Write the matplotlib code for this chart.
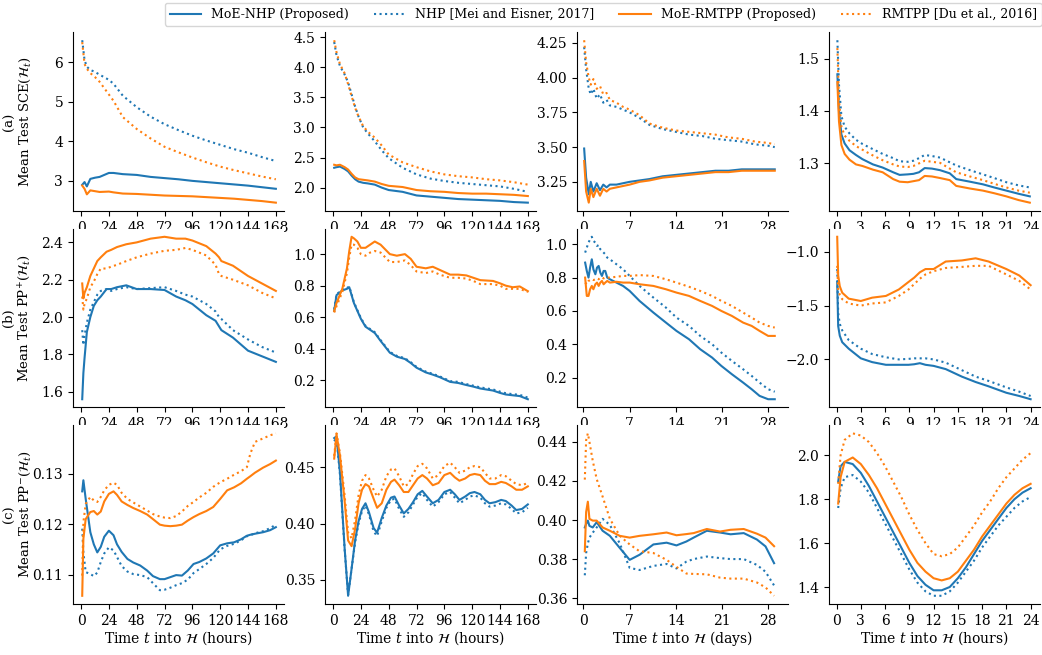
import matplotlib
matplotlib.use("Agg")
import matplotlib.pyplot as plt
from matplotlib.ticker import MultipleLocator

plt.rcParams["font.family"] = "DejaVu Serif"
plt.rcParams["mathtext.fontset"] = "dejavuserif"
plt.rcParams["font.size"] = 10

labels = ["MoE-NHP (Proposed)", "NHP [Mei and Eisner, 2017]",
          "MoE-RMTPP (Proposed)", "RMTPP [Du et al., 2016]"]

# ---- row (a): SCE ----
a1_x = [1, 3, 5, 8, 12, 16, 24, 28, 36, 48, 60, 72, 84, 96, 108, 120, 132, 144, 156, 168]
a1_moe_nhp = [2.90, 2.97, 2.86, 3.05, 3.08, 3.10, 3.20, 3.20, 3.17, 3.15, 3.10, 3.07, 3.04, 3.00, 2.97, 2.94, 2.91, 2.88, 2.84, 2.80]
a1_nhp = [6.55, 6.05, 5.88, 5.80, 5.75, 5.68, 5.55, 5.45, 5.15, 4.86, 4.62, 4.43, 4.28, 4.14, 4.02, 3.91, 3.80, 3.71, 3.60, 3.50]
a1_moe_rmtpp = [2.88, 2.80, 2.66, 2.76, 2.74, 2.72, 2.73, 2.71, 2.68, 2.67, 2.65, 2.63, 2.62, 2.61, 2.59, 2.57, 2.55, 2.52, 2.49, 2.45]
a1_rmtpp = [6.50, 5.95, 5.83, 5.72, 5.62, 5.50, 5.18, 5.02, 4.61, 4.31, 4.07, 3.86, 3.72, 3.59, 3.47, 3.36, 3.27, 3.19, 3.11, 3.04]

a2_x = [1, 3, 6, 10, 13, 16, 19, 22, 26, 30, 36, 42, 48, 60, 72, 84, 96, 108, 120, 132, 144, 156, 168]
a2_moe_nhp = [2.33, 2.34, 2.35, 2.31, 2.27, 2.20, 2.14, 2.10, 2.08, 2.07, 2.05, 2.00, 1.96, 1.93, 1.87, 1.85, 1.83, 1.81, 1.80, 1.79, 1.78, 1.76, 1.75]
a2_nhp = [4.42, 4.20, 4.02, 3.88, 3.75, 3.55, 3.35, 3.18, 3.00, 2.90, 2.77, 2.62, 2.49, 2.33, 2.22, 2.15, 2.11, 2.08, 2.06, 2.04, 2.02, 1.98, 1.93]
a2_moe_rmtpp = [2.38, 2.37, 2.38, 2.34, 2.30, 2.23, 2.17, 2.14, 2.13, 2.12, 2.10, 2.06, 2.03, 2.01, 1.96, 1.94, 1.93, 1.91, 1.90, 1.90, 1.89, 1.88, 1.86]
a2_rmtpp = [4.45, 4.25, 4.05, 3.90, 3.72, 3.52, 3.33, 3.18, 3.02, 2.93, 2.83, 2.70, 2.55, 2.42, 2.34, 2.27, 2.22, 2.19, 2.17, 2.14, 2.12, 2.09, 2.05]

a3_x = [0.1, 0.4, 0.8, 1.1, 1.5, 2, 2.5, 3, 3.5, 4, 5, 6, 7, 8.5, 10, 12, 14, 16, 18, 20, 22, 24, 26, 28, 29]
a3_moe_nhp = [3.49, 3.28, 3.16, 3.25, 3.18, 3.24, 3.19, 3.23, 3.21, 3.23, 3.23, 3.24, 3.25, 3.26, 3.27, 3.29, 3.30, 3.31, 3.32, 3.33, 3.33, 3.34, 3.34, 3.34, 3.34]
a3_nhp = [4.22, 4.06, 3.92, 3.88, 3.92, 3.85, 3.88, 3.82, 3.84, 3.80, 3.79, 3.77, 3.75, 3.71, 3.66, 3.63, 3.61, 3.59, 3.58, 3.56, 3.55, 3.54, 3.52, 3.51, 3.50]
a3_moe_rmtpp = [3.40, 3.18, 3.10, 3.20, 3.14, 3.20, 3.15, 3.20, 3.18, 3.20, 3.21, 3.22, 3.23, 3.25, 3.26, 3.28, 3.29, 3.30, 3.31, 3.32, 3.32, 3.33, 3.33, 3.33, 3.33]
a3_rmtpp = [4.27, 4.11, 4.00, 3.95, 3.99, 3.92, 3.94, 3.88, 3.89, 3.84, 3.82, 3.79, 3.77, 3.73, 3.67, 3.64, 3.62, 3.61, 3.60, 3.59, 3.57, 3.56, 3.54, 3.53, 3.52]

a4_x = [0.1, 0.3, 0.6, 1, 1.6, 2.4, 3.2, 4.5, 5.7, 7, 7.8, 8.8, 9.5, 10.2, 10.9, 11.8, 12.8, 14, 14.8, 16.5, 18.1, 19.5, 21, 22.5, 23.9]
a4_moe_nhp = [1.470, 1.400, 1.355, 1.338, 1.325, 1.316, 1.308, 1.298, 1.292, 1.283, 1.278, 1.279, 1.280, 1.283, 1.291, 1.290, 1.287, 1.281, 1.270, 1.265, 1.260, 1.254, 1.248, 1.242, 1.237]
a4_nhp = [1.535, 1.450, 1.390, 1.370, 1.357, 1.345, 1.337, 1.327, 1.318, 1.310, 1.304, 1.303, 1.305, 1.310, 1.316, 1.314, 1.311, 1.302, 1.296, 1.287, 1.279, 1.272, 1.264, 1.258, 1.254]
a4_moe_rmtpp = [1.455, 1.380, 1.335, 1.318, 1.307, 1.298, 1.295, 1.288, 1.283, 1.270, 1.265, 1.264, 1.266, 1.268, 1.276, 1.275, 1.272, 1.268, 1.257, 1.252, 1.248, 1.243, 1.237, 1.230, 1.225]
a4_rmtpp = [1.520, 1.420, 1.370, 1.353, 1.343, 1.333, 1.326, 1.315, 1.306, 1.298, 1.294, 1.293, 1.295, 1.300, 1.305, 1.303, 1.301, 1.290, 1.283, 1.275, 1.268, 1.261, 1.254, 1.248, 1.244]

# ---- row (b): PP+ ----
b1_x = [1, 2, 3, 5, 8, 11, 14, 17, 22, 26, 31, 39, 48, 60, 72, 82, 90, 96, 108, 116, 119, 121, 131, 144, 156, 168]
b1_moe_nhp = [1.56, 1.70, 1.78, 1.92, 2.00, 2.06, 2.09, 2.11, 2.15, 2.15, 2.16, 2.17, 2.15, 2.15, 2.145, 2.11, 2.09, 2.07, 2.01, 1.98, 1.95, 1.93, 1.89, 1.82, 1.79, 1.76]
b1_nhp = [1.93, 1.85, 1.90, 1.97, 2.04, 2.08, 2.12, 2.14, 2.15, 2.14, 2.15, 2.16, 2.15, 2.155, 2.16, 2.14, 2.12, 2.11, 2.07, 2.03, 2.00, 1.99, 1.93, 1.88, 1.84, 1.81]
b1_moe_rmtpp = [2.18, 2.10, 2.13, 2.16, 2.22, 2.26, 2.30, 2.32, 2.35, 2.36, 2.375, 2.39, 2.40, 2.42, 2.43, 2.42, 2.42, 2.41, 2.38, 2.34, 2.32, 2.30, 2.275, 2.22, 2.18, 2.14]
b1_rmtpp = [2.11, 2.04, 2.07, 2.10, 2.16, 2.19, 2.23, 2.26, 2.26, 2.27, 2.28, 2.30, 2.32, 2.34, 2.355, 2.36, 2.37, 2.36, 2.33, 2.28, 2.23, 2.22, 2.20, 2.17, 2.13, 2.10]

b2_x = [1, 3, 8, 12, 14, 16, 18, 21, 24, 28, 32, 36, 41, 49, 55, 62, 67, 72, 80, 86, 92, 101, 108, 115, 121, 127, 138, 144, 149, 155, 161, 168]
b2_moe_nhp = [0.64, 0.74, 0.77, 0.78, 0.79, 0.74, 0.69, 0.64, 0.59, 0.54, 0.52, 0.50, 0.45, 0.375, 0.35, 0.335, 0.31, 0.28, 0.25, 0.236, 0.22, 0.19, 0.183, 0.17, 0.16, 0.148, 0.135, 0.12, 0.11, 0.105, 0.10, 0.08]
b2_nhp = [0.65, 0.745, 0.775, 0.785, 0.795, 0.745, 0.695, 0.645, 0.595, 0.545, 0.525, 0.505, 0.455, 0.38, 0.355, 0.34, 0.315, 0.285, 0.255, 0.241, 0.225, 0.195, 0.19, 0.176, 0.166, 0.155, 0.142, 0.128, 0.118, 0.112, 0.108, 0.09]
b2_moe_rmtpp = [0.64, 0.69, 0.78, 0.91, 1.02, 1.11, 1.10, 1.08, 1.04, 1.04, 1.06, 1.08, 1.06, 1.00, 0.99, 1.00, 0.97, 0.92, 0.91, 0.92, 0.90, 0.87, 0.87, 0.865, 0.85, 0.835, 0.83, 0.815, 0.80, 0.79, 0.795, 0.765]
b2_rmtpp = [0.63, 0.67, 0.76, 0.88, 0.98, 1.06, 1.06, 1.04, 1.00, 0.99, 1.01, 1.02, 1.01, 0.95, 0.95, 0.96, 0.93, 0.89, 0.88, 0.89, 0.87, 0.85, 0.85, 0.845, 0.83, 0.81, 0.81, 0.80, 0.78, 0.78, 0.78, 0.76]

b3_x = [0.25, 0.5, 0.76, 1.0, 1.26, 1.5, 1.8, 2.05, 2.3, 2.55, 2.8, 3.05, 3.3, 3.6, 4, 5, 6, 7, 8.5, 10.6, 12.5, 14.1, 16, 17.7, 19.5, 20.9, 22.5, 24.2, 25.5, 26.7, 28, 29]
b3_moe_nhp = [0.89, 0.84, 0.80, 0.86, 0.91, 0.85, 0.82, 0.86, 0.87, 0.83, 0.81, 0.84, 0.84, 0.80, 0.79, 0.77, 0.75, 0.72, 0.66, 0.59, 0.53, 0.48, 0.43, 0.37, 0.32, 0.27, 0.22, 0.17, 0.13, 0.09, 0.07, 0.07]
b3_nhp = [0.95, 0.98, 1.01, 1.03, 1.045, 1.02, 1.01, 0.99, 0.995, 0.97, 0.96, 0.95, 0.94, 0.92, 0.91, 0.88, 0.85, 0.81, 0.75, 0.68, 0.62, 0.56, 0.51, 0.45, 0.40, 0.35, 0.30, 0.25, 0.21, 0.17, 0.13, 0.115]
b3_moe_rmtpp = [0.80, 0.69, 0.69, 0.73, 0.75, 0.73, 0.76, 0.77, 0.75, 0.77, 0.78, 0.76, 0.77, 0.78, 0.77, 0.775, 0.77, 0.77, 0.76, 0.75, 0.73, 0.71, 0.69, 0.66, 0.63, 0.60, 0.57, 0.53, 0.51, 0.48, 0.45, 0.45]
b3_rmtpp = [0.77, 0.76, 0.78, 0.785, 0.79, 0.785, 0.79, 0.795, 0.79, 0.80, 0.80, 0.795, 0.80, 0.80, 0.80, 0.805, 0.81, 0.81, 0.815, 0.81, 0.79, 0.77, 0.745, 0.72, 0.69, 0.66, 0.63, 0.59, 0.56, 0.53, 0.51, 0.50]

b4_x = [0.08, 0.2, 0.4, 0.7, 1.5, 3, 4.4, 6.1, 7.7, 8.9, 9.6, 10.3, 11, 12, 13.5, 15.5, 17.2, 18.8, 21, 22.6, 24]
b4_moe_nhp = [-1.28, -1.69, -1.78, -1.84, -1.90, -1.99, -2.025, -2.05, -2.05, -2.05, -2.045, -2.035, -2.05, -2.06, -2.09, -2.16, -2.21, -2.25, -2.31, -2.34, -2.37]
b4_nhp = [-1.16, -1.57, -1.67, -1.73, -1.82, -1.90, -1.95, -1.98, -2.00, -1.995, -1.99, -1.99, -1.99, -2.00, -2.03, -2.10, -2.16, -2.20, -2.26, -2.30, -2.34]
b4_moe_rmtpp = [-0.86, -1.22, -1.32, -1.38, -1.435, -1.457, -1.426, -1.41, -1.35, -1.28, -1.24, -1.19, -1.16, -1.16, -1.09, -1.08, -1.06, -1.09, -1.16, -1.22, -1.31]
b4_rmtpp = [-1.13, -1.35, -1.40, -1.44, -1.48, -1.50, -1.48, -1.47, -1.41, -1.35, -1.30, -1.25, -1.21, -1.18, -1.15, -1.14, -1.13, -1.13, -1.21, -1.27, -1.35]

# ---- row (c): PP- ----
c1_x = [1, 2, 4, 8, 11, 14, 17, 20, 24, 28, 31, 35, 40, 45, 51, 57, 62, 68, 72, 77, 82, 87, 92, 97, 102, 108, 114, 120, 126, 132, 138, 143, 146, 150, 157, 163, 168]
c1_moe_nhp = [0.1265, 0.1287, 0.1250, 0.1184, 0.1160, 0.1144, 0.1155, 0.1175, 0.1187, 0.1178, 0.1160, 0.1145, 0.1131, 0.1124, 0.1118, 0.1108, 0.1097, 0.1091, 0.1091, 0.1095, 0.1099, 0.1098, 0.1108, 0.1121, 0.1125, 0.1132, 0.1142, 0.1158, 0.1162, 0.1164, 0.1170, 0.1177, 0.1179, 0.1181, 0.1184, 0.1188, 0.1194]
c1_nhp = [0.1191, 0.1144, 0.1105, 0.1101, 0.1097, 0.1104, 0.1125, 0.1142, 0.1154, 0.1148, 0.1135, 0.1117, 0.1106, 0.1101, 0.1099, 0.1095, 0.1083, 0.1069, 0.1070, 0.1074, 0.1079, 0.1083, 0.1090, 0.1103, 0.1111, 0.1121, 0.1133, 0.1150, 0.1157, 0.1161, 0.1168, 0.1176, 0.1178, 0.1182, 0.1186, 0.1192, 0.1199]
c1_moe_rmtpp = [0.1058, 0.1171, 0.1210, 0.1224, 0.1226, 0.1219, 0.1225, 0.1245, 0.1260, 0.1265, 0.1258, 0.1245, 0.1238, 0.1232, 0.1226, 0.1219, 0.1210, 0.1199, 0.1197, 0.1196, 0.1197, 0.1199, 0.1207, 0.1214, 0.1220, 0.1226, 0.1234, 0.1250, 0.1267, 0.1273, 0.1281, 0.1290, 0.1295, 0.1302, 0.1312, 0.1319, 0.1326]
c1_rmtpp = [0.1098, 0.1204, 0.1240, 0.1254, 0.1247, 0.1244, 0.1254, 0.1267, 0.1278, 0.1282, 0.1278, 0.1262, 0.1250, 0.1243, 0.1235, 0.1227, 0.1220, 0.1215, 0.1213, 0.1212, 0.1216, 0.1225, 0.1236, 0.1244, 0.1253, 0.1262, 0.1274, 0.1283, 0.1290, 0.1298, 0.1305, 0.1313, 0.1340, 0.1363, 0.1370, 0.1376, 0.1380]

c2_x = [1, 3, 6, 10, 13, 16, 19, 22, 25, 28, 31, 35, 38, 42, 46, 50, 53, 57, 61, 65, 69, 73, 77, 81, 86, 91, 96, 101, 105, 109, 114, 118, 122, 127, 131, 135, 140, 145, 149, 154, 158, 163, 168]
c2_moe_nhp = [0.4758, 0.4773, 0.445, 0.378, 0.336, 0.360, 0.385, 0.402, 0.413, 0.418, 0.410, 0.396, 0.392, 0.405, 0.416, 0.423, 0.424, 0.416, 0.409, 0.413, 0.419, 0.426, 0.429, 0.424, 0.418, 0.421, 0.428, 0.430, 0.426, 0.421, 0.424, 0.427, 0.428, 0.426, 0.421, 0.418, 0.419, 0.421, 0.420, 0.416, 0.412, 0.413, 0.417]
c2_nhp = [0.473, 0.476, 0.443, 0.377, 0.337, 0.360, 0.383, 0.400, 0.411, 0.416, 0.408, 0.393, 0.389, 0.402, 0.414, 0.421, 0.422, 0.413, 0.406, 0.410, 0.417, 0.424, 0.427, 0.421, 0.415, 0.419, 0.426, 0.428, 0.423, 0.418, 0.421, 0.424, 0.425, 0.423, 0.418, 0.415, 0.416, 0.418, 0.417, 0.413, 0.409, 0.410, 0.414]
c2_moe_rmtpp = [0.4576, 0.4788, 0.460, 0.420, 0.385, 0.380, 0.395, 0.418, 0.430, 0.435, 0.433, 0.422, 0.414, 0.418, 0.430, 0.437, 0.439, 0.434, 0.428, 0.428, 0.434, 0.440, 0.443, 0.440, 0.434, 0.436, 0.443, 0.445, 0.441, 0.438, 0.440, 0.443, 0.444, 0.443, 0.438, 0.435, 0.435, 0.437, 0.436, 0.433, 0.430, 0.430, 0.433]
c2_rmtpp = [0.460, 0.480, 0.462, 0.425, 0.392, 0.387, 0.403, 0.425, 0.438, 0.443, 0.440, 0.430, 0.424, 0.430, 0.442, 0.448, 0.449, 0.442, 0.433, 0.435, 0.444, 0.451, 0.453, 0.449, 0.440, 0.443, 0.451, 0.454, 0.450, 0.445, 0.447, 0.450, 0.451, 0.450, 0.445, 0.440, 0.440, 0.443, 0.442, 0.438, 0.435, 0.434, 0.436]

c3_x = [0.2, 0.4, 0.66, 0.9, 1.4, 2, 2.9, 4, 5.5, 7, 8.5, 10.6, 12.6, 14.1, 15.6, 16.7, 18.7, 20.7, 22.3, 24.3, 26.3, 27.6, 28.9]
c3_moe_nhp = [0.3962, 0.3980, 0.3997, 0.3970, 0.3962, 0.3989, 0.3945, 0.3919, 0.3857, 0.3796, 0.3822, 0.3875, 0.3884, 0.3870, 0.3890, 0.3910, 0.3945, 0.3936, 0.3927, 0.3933, 0.3900, 0.3865, 0.3779]
c3_nhp = [0.3717, 0.3831, 0.3880, 0.3910, 0.3935, 0.3962, 0.4006, 0.3975, 0.3880, 0.3755, 0.3744, 0.3765, 0.3775, 0.3752, 0.3787, 0.3800, 0.3813, 0.3805, 0.3800, 0.3800, 0.3770, 0.3735, 0.3665]
c3_moe_rmtpp = [0.3840, 0.4041, 0.4094, 0.4006, 0.3997, 0.3997, 0.3962, 0.3945, 0.3919, 0.3910, 0.3919, 0.3927, 0.3936, 0.3922, 0.3928, 0.3933, 0.3954, 0.3941, 0.3950, 0.3954, 0.3930, 0.3910, 0.3866]
c3_rmtpp = [0.4207, 0.4409, 0.4444, 0.4400, 0.4304, 0.4210, 0.4120, 0.4006, 0.3919, 0.3875, 0.3840, 0.3831, 0.3796, 0.3760, 0.3726, 0.3724, 0.3722, 0.3705, 0.3700, 0.3700, 0.3680, 0.3655, 0.3612]

c4_x = [0.2, 0.5, 1, 2, 3, 4, 5, 6, 7, 8, 9, 10, 11, 12, 13, 14, 15, 16, 17, 18, 19, 20, 21, 22, 23, 24]
c4_moe_nhp = [1.88, 1.95, 1.97, 1.96, 1.92, 1.86, 1.79, 1.72, 1.65, 1.58, 1.51, 1.45, 1.41, 1.385, 1.385, 1.40, 1.44, 1.49, 1.55, 1.61, 1.66, 1.71, 1.76, 1.80, 1.83, 1.85]
c4_nhp = [1.76, 1.85, 1.90, 1.91, 1.88, 1.83, 1.76, 1.69, 1.62, 1.55, 1.48, 1.42, 1.38, 1.36, 1.36, 1.38, 1.42, 1.47, 1.52, 1.58, 1.63, 1.68, 1.72, 1.76, 1.79, 1.81]
c4_moe_rmtpp = [1.78, 1.90, 1.97, 1.99, 1.96, 1.91, 1.85, 1.78, 1.71, 1.64, 1.57, 1.51, 1.47, 1.44, 1.43, 1.44, 1.47, 1.52, 1.57, 1.63, 1.68, 1.73, 1.78, 1.82, 1.85, 1.87]
c4_rmtpp = [1.87, 2.00, 2.07, 2.10, 2.09, 2.06, 2.01, 1.95, 1.88, 1.81, 1.73, 1.66, 1.60, 1.55, 1.54, 1.55, 1.58, 1.63, 1.68, 1.74, 1.79, 1.85, 1.90, 1.94, 1.98, 2.01]

panels = [
    [(a1_x, a1_moe_nhp, a1_nhp, a1_moe_rmtpp, a1_rmtpp),
     (a2_x, a2_moe_nhp, a2_nhp, a2_moe_rmtpp, a2_rmtpp),
     (a3_x, a3_moe_nhp, a3_nhp, a3_moe_rmtpp, a3_rmtpp),
     (a4_x, a4_moe_nhp, a4_nhp, a4_moe_rmtpp, a4_rmtpp)],
    [(b1_x, b1_moe_nhp, b1_nhp, b1_moe_rmtpp, b1_rmtpp),
     (b2_x, b2_moe_nhp, b2_nhp, b2_moe_rmtpp, b2_rmtpp),
     (b3_x, b3_moe_nhp, b3_nhp, b3_moe_rmtpp, b3_rmtpp),
     (b4_x, b4_moe_nhp, b4_nhp, b4_moe_rmtpp, b4_rmtpp)],
    [(c1_x, c1_moe_nhp, c1_nhp, c1_moe_rmtpp, c1_rmtpp),
     (c2_x, c2_moe_nhp, c2_nhp, c2_moe_rmtpp, c2_rmtpp),
     (c3_x, c3_moe_nhp, c3_nhp, c3_moe_rmtpp, c3_rmtpp),
     (c4_x, c4_moe_nhp, c4_nhp, c4_moe_rmtpp, c4_rmtpp)],
]

row_labels = ["(a)\nMean Test SCE($\\mathcal{H}_t$)",
              "(b)\nMean Test PP$^{+}$($\\mathcal{H}_t$)",
              "(c)\nMean Test PP$^{-}$($\\mathcal{H}_t$)"]
col_xlabels = ["Time $t$ into $\\mathcal{H}$ (hours)", "Time $t$ into $\\mathcal{H}$ (hours)",
               "Time $t$ into $\\mathcal{H}$ (days)", "Time $t$ into $\\mathcal{H}$ (hours)"]
col_xticks = [range(0, 169, 24), range(0, 169, 24), range(0, 29, 7), range(0, 25, 3)]
col_xlims = [(-7, 175), (-7, 175), (-1, 31), (-0.95, 25.15)]
ystep = [[1, 0.5, 0.25, 0.1],
         [0.2, 0.2, 0.2, 0.5],
         [0.01, 0.05, 0.02, 0.2]]

fig, axes = plt.subplots(3, 4, figsize=(10.42, 6.55), dpi=100)
fig.subplots_adjust(left=0.070, right=0.998, top=0.951, bottom=0.078, wspace=0.194, hspace=0.10)

styles = [("C0", "-"), ("C0", ":"), ("C1", "-"), ("C1", ":")]
for r in range(3):
    for c in range(4):
        ax = axes[r, c]
        x = panels[r][c][0]
        for ys, (col, ls), lab in zip(panels[r][c][1:], styles, labels):
            ax.plot(x, ys, color=col, linestyle=ls, linewidth=1.5, label=lab)
        ax.set_xticks(list(col_xticks[c]))
        ax.set_xlim(*col_xlims[c])
        ax.yaxis.set_major_locator(MultipleLocator(ystep[r][c]))
        ax.spines["top"].set_visible(False)
        ax.spines["right"].set_visible(False)
        if c == 0:
            ax.set_ylabel(row_labels[r], fontsize=9.5, linespacing=1.15)
            ax.yaxis.set_label_coords(-0.19, 0.5)
        if r == 2:
            ax.set_xlabel(col_xlabels[c], labelpad=1)

handles, labs = axes[0, 0].get_legend_handles_labels()
fig.legend(handles, labs, loc="upper center", ncol=4, bbox_to_anchor=(0.579, 1.005),
           handlelength=2.5, columnspacing=2.0, fontsize=9)

fig.savefig("out.png", dpi=100)
